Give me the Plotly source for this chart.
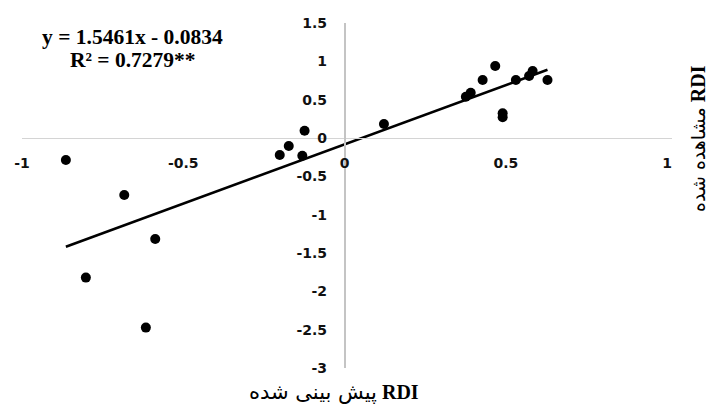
import plotly.graph_objects as go

# Predicted vs observed RDI values
rdi_predicted = [-0.864, -0.683, -0.587, -0.802, -0.616, -0.201, -0.173, -0.124, -0.131,
                 0.122, 0.376, 0.391, 0.428, 0.467, 0.490, 0.490, 0.531, 0.572, 0.583, 0.629]
rdi_observed = [-0.287, -0.743, -1.317, -1.821, -2.473, -0.222, -0.104, 0.095, -0.231,
                0.183, 0.539, 0.591, 0.756, 0.939, 0.322, 0.270, 0.756, 0.808, 0.874, 0.756]

# Linear regression reported for the data
slope = 1.5461
intercept = -0.0834
r_squared = 0.7279

x_ticks = [-1, -0.5, 0, 0.5, 1]
y_ticks = [-3, -2.5, -2, -1.5, -1, -0.5, 0, 0.5, 1, 1.5]
x_range = [-1, 1.015]
y_range = [-3, 1.5]

W, H = 709, 406
M_L, M_R, M_T, M_B = 22, 37, 23, 38


def px2x(px):
    return (px - M_L) / (W - M_L - M_R)


def py2y(py):
    return 1 - (py - M_T) / (H - M_T - M_B)


fig = go.Figure()

# Scatter of the observations
fig.add_trace(go.Scatter(
    x=rdi_predicted, y=rdi_observed, mode="markers",
    marker=dict(color="black", size=10, line=dict(width=0)),
    showlegend=False, hoverinfo="x+y",
))

# Fitted line across the span of the predictions
x0, x1 = min(rdi_predicted), max(rdi_predicted)
fig.add_trace(go.Scatter(
    x=[x0, x1], y=[slope * x0 + intercept, slope * x1 + intercept],
    mode="lines", line=dict(color="black", width=2.6),
    showlegend=False, hoverinfo="skip",
))

tick_font = dict(family="'DejaVu Sans', sans-serif", size=14, color="#111111", weight=700)

x_zero_pos = (0 - y_range[0]) / (y_range[1] - y_range[0])
y_zero_pos = (0 - x_range[0]) / (x_range[1] - x_range[0])

fig.update_layout(
    width=W, height=H,
    margin=dict(l=M_L, r=M_R, t=M_T, b=M_B),
    paper_bgcolor="white", plot_bgcolor="white",
    xaxis=dict(
        range=x_range, tickvals=x_ticks, ticktext=[f"{v:g}" for v in x_ticks],
        showgrid=False, zeroline=False, showline=True, linecolor="#d4d4d4", linewidth=1,
        anchor="free", position=x_zero_pos, ticks="", ticklabelstandoff=12,
        tickfont=tick_font,
    ),
    yaxis=dict(
        range=y_range, tickvals=y_ticks, ticktext=[f"{v:g}" for v in y_ticks],
        showgrid=False, zeroline=False, showline=True, linecolor="#c4c4c4", linewidth=1.5,
        anchor="free", position=y_zero_pos, ticks="", ticklabelstandoff=14,
        tickfont=tick_font,
    ),
    font=dict(family="Liberation Serif", color="black"),
)

eq_font = dict(family="Liberation Serif, 'Times New Roman', serif", size=21.5, color="black")
sign = "-" if intercept < 0 else "+"
fig.add_annotation(
    text=f"<b>y = {slope:.4f}x {sign} {abs(intercept):.4f}</b>",
    xref="paper", yref="paper", x=px2x(132), y=py2y(37),
    showarrow=False, font=eq_font, xanchor="center", yanchor="middle",
)
fig.add_annotation(
    text=f"<b>R² = {r_squared:.4f}**</b>",
    xref="paper", yref="paper", x=px2x(133), y=py2y(60),
    showarrow=False, font=eq_font, xanchor="center", yanchor="middle",
)

persian_x = "font-family:'DejaVu Sans';font-size:21px"
persian_y = "font-family:'DejaVu Sans';font-size:19px"
fig.add_annotation(
    text=f"<span style=\"{persian_x}\">پیش بینی شده</span> <b>RDI</b>",
    xref="paper", yref="paper", x=px2x(334), y=py2y(392),
    showarrow=False, font=dict(family="Liberation Serif", size=20, color="black"),
    xanchor="center", yanchor="middle",
)
fig.add_annotation(
    text=f"<span style=\"{persian_y}\">مشاهده شده</span> <b>RDI</b>",
    xref="paper", yref="paper", x=px2x(698), y=py2y(139),
    showarrow=False, textangle=-90, font=dict(family="Liberation Serif", size=20, color="black"),
    xanchor="center", yanchor="middle",
)

fig.write_html("out.html")
